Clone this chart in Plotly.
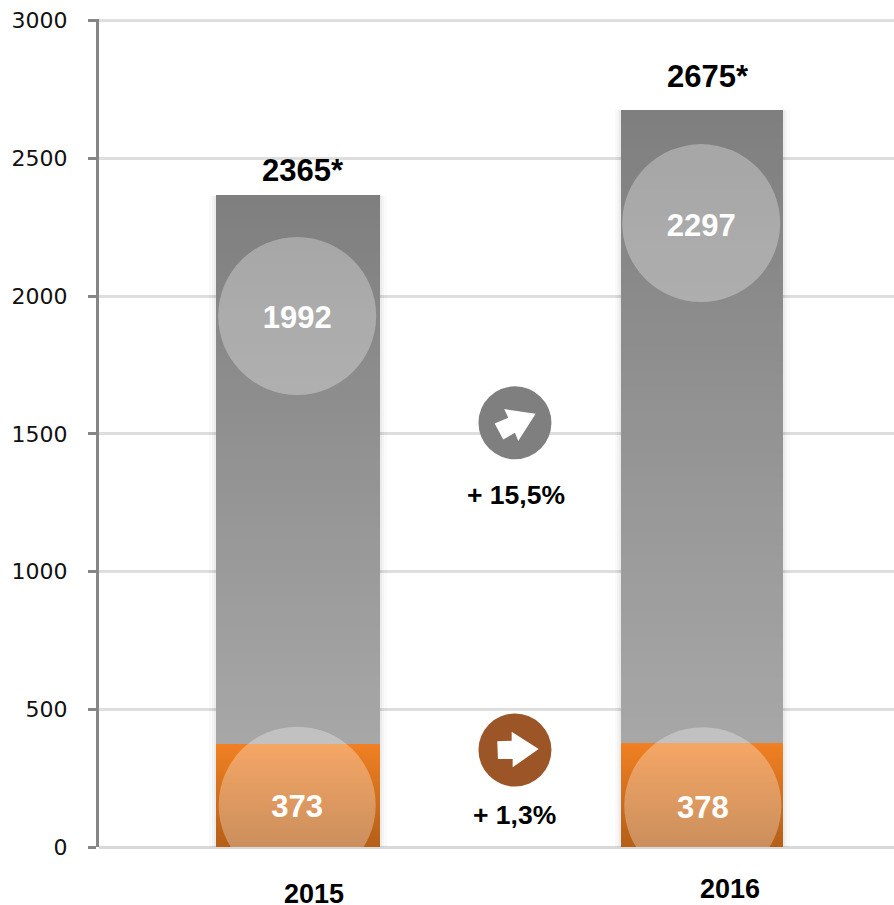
import plotly.graph_objects as go

# ---- data ----
years = [2015, 2016]
lower_values = [373, 378]
upper_values = [1992, 2297]
total_labels = ["2365*", "2675*"]
total_label_x = [2015.012, 2016.015]
total_label_y = [2456, 2797]
year_labels = ["2015", "2016"]
year_label_x = [2015.04, 2016.07]
year_label_paper_y = [-0.0774, -0.0713]
upper_circle_y = [1928, 2265]
upper_circle_x = [2014.998, 2015.998]
upper_text_y = [1914, 2248]
lower_circle_y = [152, 150]
lower_circle_x = [2014.998, 2016.002]
lower_text_y = [138, 134]
change_x = [2015.537, 2015.537]
change_circle_y = [1540, 352]
change_colors = ["#7f7f7f", "#9c5527"]
change_labels = ["+ 15,5%", "+ 1,3%"]
change_label_x = [2015.54, 2015.535]
change_label_y = [1278, 116]
y_ticks = [0, 500, 1000, 1500, 2000, 2500, 3000]

# ---- appearance ----
W, H = 894, 905
PLOT_LEFT = 99
PX_PER_X = 404
X_LEFT = 2015 - (298 - PLOT_LEFT) / PX_PER_X
X_RIGHT = X_LEFT + (W - PLOT_LEFT) / PX_PER_X
BAR_WIDTHS = [0.406, 0.401]
N_STEPS = 48
Y_MAX = 3006
PLOT_BOTTOM = 847
PLOT_TOP = PLOT_BOTTOM - 826 * Y_MAX / 3000
FONT = "Liberation Sans, Arial, sans-serif"


def mix(c1, c2, t):
    return "rgb(%d,%d,%d)" % tuple(round(a + (b - a) * t) for a, b in zip(c1, c2))


def gradient_bar(x, width, base, height, top, bottom):
    """A bar of `height` starting at `base`, painted as thin stacked bands."""
    step = height / N_STEPS
    return go.Bar(
        x=[x] * N_STEPS,
        y=[step * 1.02] * N_STEPS,
        base=[base + i * step for i in range(N_STEPS)],
        width=width,
        marker=dict(color=[mix(bottom, top, i / (N_STEPS - 1)) for i in range(N_STEPS)],
                    line=dict(width=0)),
        hoverinfo="skip",
        showlegend=False,
    )


fig = go.Figure()

# soft halo behind each bar
for extra_px, alpha in [(13, 0.02), (8, 0.025), (4, 0.035)]:
    fig.add_trace(go.Bar(
        x=years,
        y=[a + b for a, b in zip(lower_values, upper_values)],
        width=[w + extra_px / PX_PER_X for w in BAR_WIDTHS],
        marker=dict(color="rgba(0,0,0,%g)" % alpha, line=dict(width=0)),
        hoverinfo="skip",
        showlegend=False,
    ))

for x, w, lo, up in zip(years, BAR_WIDTHS, lower_values, upper_values):
    fig.add_trace(gradient_bar(x, w, lo, up, (0x7f, 0x7f, 0x7f), (0xa7, 0xa7, 0xa7)))
    fig.add_trace(gradient_bar(x, w, 0, lo, (0xf0, 0x80, 0x22), (0xb5, 0x5f, 0x18)))

# translucent discs
fig.add_trace(go.Scatter(
    x=upper_circle_x, y=upper_circle_y, mode="markers",
    marker=dict(size=158, color="rgba(255,255,255,0.3)", line=dict(width=0)),
    hoverinfo="skip", showlegend=False,
))
fig.add_trace(go.Scatter(
    x=lower_circle_x, y=lower_circle_y, mode="markers",
    marker=dict(size=157, color="rgba(255,255,255,0.3)", line=dict(width=0)),
    hoverinfo="skip", showlegend=False,
))

# segment values on the discs
for xs, ys, vals in [(upper_circle_x, upper_text_y, upper_values),
                     (lower_circle_x, lower_text_y, lower_values)]:
    fig.add_trace(go.Scatter(
        x=xs, y=ys, mode="text",
        text=[str(v) for v in vals], textposition="middle center",
        textfont=dict(family=FONT, size=31, color="white", weight="bold"),
        hoverinfo="skip", showlegend=False,
    ))

# change badges
fig.add_trace(go.Scatter(
    x=change_x, y=change_circle_y, mode="markers",
    marker=dict(size=73, color=change_colors, line=dict(width=0)),
    hoverinfo="skip", showlegend=False,
))

ARROW_UP = "M -10.7 13.7 L 20.7 9 L 3.3 -18.3 L 0 -10 L -11.7 -16.7 L -20.3 -0.7 L -6.7 5 Z"
ARROW_FLAT = "M -17.7 8.7 L -3.3 9.3 L -3.3 18.3 L 23.7 1 L -2.3 -17.3 L -2.3 -9 L -17 -9 Z"
shapes = [
    dict(type="path", path=p, xsizemode="pixel", ysizemode="pixel",
         xanchor=x, yanchor=y, xref="x", yref="y",
         fillcolor="white", line=dict(width=0), layer="above")
    for p, x, y in zip([ARROW_UP, ARROW_FLAT], change_x, change_circle_y)
]

annotations = []
for t, x, y in zip(total_labels, total_label_x, total_label_y):
    annotations.append(dict(x=x, y=y, text="<b>%s</b>" % t, showarrow=False,
                            font=dict(family=FONT, size=31, color="black")))
for t, x, y in zip(change_labels, change_label_x, change_label_y):
    annotations.append(dict(x=x, y=y, text="<b>%s</b>" % t, showarrow=False,
                            font=dict(family=FONT, size=26.5, color="black")))
for t, x, y in zip(year_labels, year_label_x, year_label_paper_y):
    annotations.append(dict(x=x, y=y, yref="paper", text="<b>%s</b>" % t, showarrow=False,
                            font=dict(family=FONT, size=27, color="black")))

fig.update_layout(
    width=W, height=H,
    autosize=False,
    margin=dict(l=PLOT_LEFT, r=0, t=PLOT_TOP, b=H - PLOT_BOTTOM, pad=0),
    paper_bgcolor="white", plot_bgcolor="white",
    barmode="overlay", bargap=0,
    shapes=shapes, annotations=annotations,
    showlegend=False,
    xaxis=dict(range=[X_LEFT, X_RIGHT], showgrid=False, zeroline=False,
               showticklabels=False, ticks="", showline=False, fixedrange=True),
    yaxis=dict(range=[0, Y_MAX], tickvals=y_ticks, ticktext=[str(v) for v in y_ticks],
               showgrid=True, gridcolor="#dedede", gridwidth=3,
               zeroline=True, zerolinecolor="#d9d9d9", zerolinewidth=3,
               showline=True, linecolor="#868686", linewidth=3,
               ticks="outside", ticklen=8, tickwidth=3, tickcolor="#868686",
               ticklabelstandoff=16,
               tickfont=dict(family="DejaVu Sans, Verdana, sans-serif", size=22, color="#111111"),
               fixedrange=True),
)

fig.write_html("out.html", config=dict(displayModeBar=False),
               post_script="document.body.style.margin='0';document.body.style.overflow='hidden';")
